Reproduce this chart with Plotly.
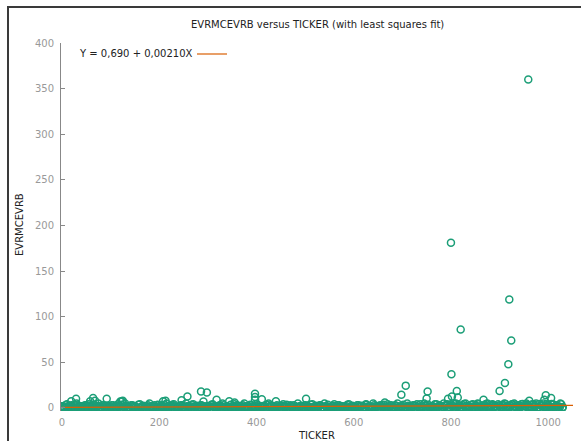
import plotly.graph_objects as go

# Dense band of observations: TICKER index and EVRMCEVRB value
band_ticker = list(range(0, 1035, 5))
band_value = [
    2, 0, 4, 1, 3, 0, 5, 1, 2, 0, 3, 4, 0, 2, 1, 5, 0, 3, 2, 0,
    1, 3, 0, 4, 2, 0, 5, 1, 0, 3, 2, 0, 4, 1, 0, 2, 5, 0, 3, 1,
    0, 3, 1, 5, 0, 2, 4, 0, 1, 3, 0, 5, 2, 0, 4, 1, 0, 3, 2, 0,
    2, 0, 4, 1, 0, 3, 5, 0, 2, 1, 0, 4, 3, 0, 2, 5, 0, 1, 3, 0,
    4, 0, 2, 1, 0, 5, 3, 0, 2, 1, 0, 4, 2, 0, 3, 1, 0, 5, 2, 0,
    3, 0, 1, 4, 0, 2, 3, 0, 5, 1, 0, 2, 4, 0, 3, 1, 0, 2, 4, 0,
    1, 0, 3, 2, 0, 4, 1, 0, 5, 2, 0, 3, 1, 0, 4, 2, 0, 3, 5, 0,
    2, 0, 5, 1, 0, 3, 4, 0, 2, 5, 0, 3, 1, 0, 4, 2, 0, 5, 3, 0,
    4, 0, 5, 2, 0, 3, 5, 0, 1, 4, 0, 5, 2, 0, 3, 5, 0, 4, 2, 0,
    3, 0, 5, 2, 0, 4, 5, 0, 3, 4, 0, 5, 2, 0, 4, 5, 0, 3, 5, 0,
    3, 0, 4, 2, 0, 5, 1,
]

band2_ticker = list(range(2, 1030, 5))
band2_value = [
    1.5, 3, 0.5, 2.5, 1, 3.5, 0.5, 2, 1.5, 3, 0.5, 2.5, 1, 3.5, 2, 0.5, 3, 1.5, 2.5, 1,
    3, 0.5, 2, 1.5, 3.5, 1, 2.5, 0.5, 3, 2, 1, 3.5, 0.5, 2.5, 1.5, 3, 1, 2, 0.5, 3.5,
    2.5, 1, 3, 0.5, 2, 3.5, 1.5, 0.5, 2.5, 3, 1, 2, 0.5, 3.5, 1.5, 2.5, 1, 3, 0.5, 2,
    1, 3.5, 2, 0.5, 2.5, 1.5, 3, 1, 0.5, 3.5, 2, 1.5, 2.5, 0.5, 3, 1, 2, 3.5, 1.5, 0.5,
    3, 1.5, 0.5, 2.5, 3.5, 1, 2, 0.5, 3, 1.5, 2.5, 1, 3.5, 0.5, 2, 3, 1.5, 0.5, 2.5, 1,
    2, 0.5, 3.5, 1, 2.5, 1.5, 3, 0.5, 2, 3.5, 1, 2.5, 0.5, 3, 1.5, 2, 1, 3.5, 0.5, 2.5,
    0.5, 3, 1.5, 2.5, 1, 3.5, 2, 0.5, 3, 1, 2.5, 1.5, 3.5, 0.5, 2, 3, 1, 2.5, 0.5, 1.5,
    3.5, 1, 2.5, 0.5, 3, 2, 1.5, 4, 0.5, 2.5, 3.5, 1, 2, 4, 0.5, 3, 1.5, 2.5, 4, 1,
    2.5, 4, 1, 3, 0.5, 4.5, 2, 1.5, 3.5, 0.5, 2.5, 4, 1, 3, 4.5, 0.5, 2, 3.5, 1.5, 4,
    1, 3.5, 4.5, 0.5, 2.5, 4, 1.5, 3, 0.5, 4.5, 2, 3.5, 1, 4, 2.5, 0.5, 4.5, 3, 1.5, 4,
    2, 4.5, 0.5, 3, 1.5, 4,
]

band3_ticker = list(range(4, 1030, 5))
band3_value = [
    0.5, 1, 0, 1.5, 0.5, 0, 2, 1, 0.5, 0, 1.5, 0.5, 1, 0, 2, 0.5, 0, 1, 1.5, 0,
    1, 0, 0.5, 2, 0, 1.5, 0.5, 0, 1, 2, 0, 0.5, 1.5, 0, 1, 0.5, 2, 0, 0.5, 1,
    0, 1.5, 0.5, 1, 0, 2, 0.5, 0, 1.5, 1, 0, 0.5, 2, 0, 1, 0.5, 0, 1.5, 1, 0,
    2, 0, 1, 0.5, 1.5, 0, 0.5, 2, 0, 1, 0.5, 0, 1.5, 1, 0, 2, 0.5, 0, 1, 1.5,
    0, 0.5, 1.5, 0, 1, 2, 0, 0.5, 1, 0, 1.5, 0.5, 0, 2, 1, 0, 0.5, 1.5, 0, 1,
    1.5, 0, 0.5, 1, 0, 2, 0.5, 0, 1.5, 1, 0, 0.5, 2, 0, 1, 1.5, 0, 0.5, 1, 0,
    0, 1, 2, 0.5, 0, 1.5, 1, 0, 0.5, 2, 0, 1, 1.5, 0, 0.5, 1, 0, 2, 1.5, 0.5,
    1, 0, 1.5, 0.5, 2, 0, 1, 0.5, 0, 2.5, 1, 0, 1.5, 0.5, 2, 0, 1, 2.5, 0, 0.5,
    1.5, 0, 2.5, 1, 0, 2, 0.5, 1.5, 0, 2.5, 1, 0, 2, 0.5, 1.5, 0, 2.5, 1, 0, 2,
    0.5, 2, 0, 1.5, 2.5, 0, 1, 0.5, 2, 0, 2.5, 1.5, 0, 1, 2, 0.5, 0, 2.5, 1, 0,
    1.5, 0, 2, 0.5, 1, 0,
]

# Observations standing out above the band
peak_ticker = [959, 800, 920, 820, 924, 918, 801, 911, 900, 707, 698, 752,
               750, 812, 802, 814, 794, 867, 961, 995, 1006, 992, 664, 502,
               286, 298, 258, 397, 397, 397, 411, 440, 318, 344, 246, 92,
               64, 29, 19, 58, 68, 208, 123, 291, 355, 213, 125, 120]
peak_value = [360, 181, 119, 86, 74, 48, 37, 27.5, 18.5, 24.5, 14.5, 18,
              10.5, 18.5, 12.5, 11.5, 10, 9, 8, 14, 11, 9, 6, 10,
              18, 17, 12.5, 15.5, 12, 9, 9.5, 7.5, 9, 7.5, 8.5, 10,
              11, 10, 7.5, 7.5, 8, 7.5, 7.5, 7, 6, 8, 8, 7]

# Least squares fit coefficients
intercept = 0.690
slope = 0.00210

x_range = [-2, 1051]
y_range = [-3.3, 400]

W, H = 581, 441
L, R, T, B = 61, 573, 43, 411


def xp(px):
    return (px - L) / (R - L)


def yp(py):
    return (B - py) / (B - T)


green = "#1b9e77"
orange = "#d95f02"
font = "DejaVu Sans"

pairs = [(band_ticker, band_value), (band2_ticker, band2_value),
         (band3_ticker, band3_value), (peak_ticker, peak_value)]
all_x, all_y = [], []
for xs, ys in pairs:
    assert len(xs) == len(ys)
    all_x += xs
    all_y += ys

fig = go.Figure()
fig.add_trace(go.Scatter(
    x=all_x, y=all_y,
    mode="markers",
    marker=dict(symbol="circle-open", size=7, color=green,
                line=dict(width=1.5, color=green)),
    showlegend=False,
    hoverinfo="x+y",
))

fit_x = [0, x_range[1]]
fit_y = [intercept + slope * v for v in fit_x]
fig.add_trace(go.Scatter(
    x=fit_x, y=fit_y, mode="lines",
    line=dict(color=orange, width=1.2),
    showlegend=False,
))


def fmt(v, nd):
    return f"{v:.{nd}f}".replace(".", ",")


fit_label = f"Y = {fmt(intercept, 3)} + {fmt(slope, 5)}X"

annotations = [
    dict(text="EVRMCEVRB versus TICKER (with least squares fit)",
         x=xp(317), y=yp(25), xref="paper", yref="paper",
         xanchor="center", yanchor="middle", showarrow=False,
         font=dict(family=font, size=10, color="#222222")),
    dict(text=fit_label, x=xp(77), y=yp(54), xref="paper", yref="paper",
         xanchor="left", yanchor="middle", showarrow=False,
         font=dict(family=font, size=10, color="#222222")),
    dict(text="EVRMCEVRB", x=xp(19), y=yp(225), xref="paper", yref="paper",
         xanchor="center", yanchor="middle", showarrow=False, textangle=-90,
         font=dict(family=font, size=10, color="#222222")),
    dict(text="TICKER", x=xp(316), y=yp(436), xref="paper", yref="paper",
         xanchor="center", yanchor="middle", showarrow=False,
         font=dict(family=font, size=10, color="#222222")),
]

shapes = [
    # key sample for the fitted line
    dict(type="line", xref="paper", yref="paper",
         x0=xp(197), x1=xp(227), y0=yp(54), y1=yp(54),
         line=dict(color=orange, width=1.2)),
    # window frame
    dict(type="line", xref="paper", yref="paper",
         x0=xp(7), x1=xp(W + 5), y0=yp(7), y1=yp(7),
         line=dict(color="#3a3a3a", width=2)),
    dict(type="line", xref="paper", yref="paper",
         x0=xp(8), x1=xp(8), y0=yp(6), y1=yp(H + 5),
         line=dict(color="#3a3a3a", width=2)),
]

fig.update_layout(
    width=W, height=H,
    margin=dict(l=L, r=W - R, t=T, b=H - B),
    paper_bgcolor="white", plot_bgcolor="white",
    font=dict(family=font, size=10, color="#999999"),
    annotations=annotations,
    shapes=shapes,
    xaxis=dict(range=x_range, tickvals=[0, 200, 400, 600, 800, 1000],
               showgrid=False, zeroline=False, showline=False,
               ticks="", tickfont=dict(size=10, color="#999999"),
               ticklabelstandoff=4),
    yaxis=dict(range=y_range, dtick=50, tick0=0,
               showgrid=False, zeroline=False, showline=True,
               linecolor="#888888", linewidth=1,
               ticks="inside", ticklen=4, tickcolor="#888888",
               tickfont=dict(size=10, color="#999999"),
               ticklabelstandoff=4),
)

fig.write_html("out.html")
